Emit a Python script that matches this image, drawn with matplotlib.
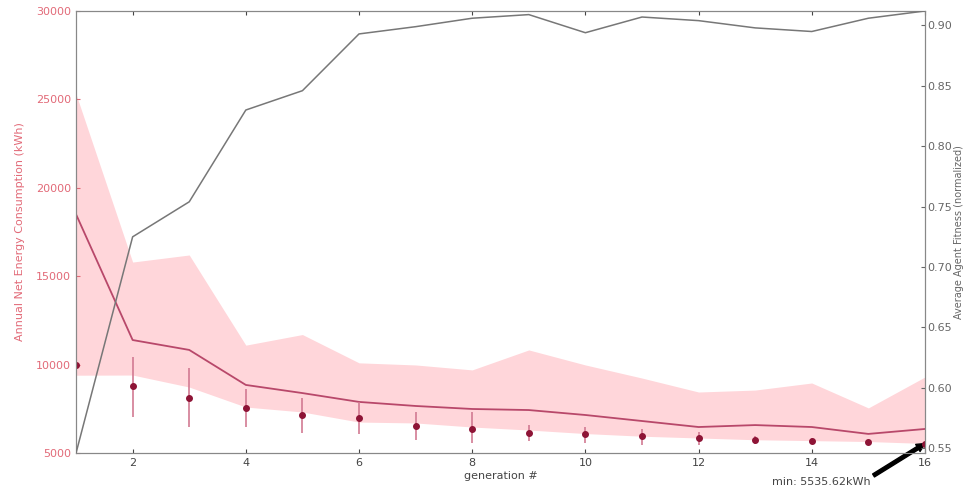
import matplotlib
matplotlib.use("Agg")
import matplotlib.pyplot as plt
import numpy as np

# generation index
generations = np.arange(1, 17)

# mean energy consumption per generation (kWh)
energy_mean = [18500, 11390, 10830, 8850, 8390, 7890, 7660, 7490,
               7430, 7150, 6810, 6470, 6580, 6470, 6080, 6360]
# spread band around the population (kWh)
band_upper = [25300, 15800, 16200, 11100, 11700, 10100, 9980, 9700,
              10830, 9980, 9240, 8450, 8560, 8960, 7550, 9300]
band_lower = [9400, 9410, 8730, 7600, 7320, 6750, 6700, 6470,
              6300, 6100, 5950, 5850, 5750, 5700, 5650, 5540]
# best (min) individual per generation with error bars
energy_min = [9980, 8790, 8110, 7545, 7150, 6980, 6530, 6360,
              6130, 6075, 5960, 5850, 5735, 5680, 5620, 5535.62]
err_low = [0, 1750, 1640, 1100, 1000, 920, 790, 790,
           470, 510, 510, 400, 200, 150, 120, 0]
err_high = [0, 1640, 1700, 1100, 960, 900, 800, 960,
            450, 400, 400, 340, 200, 150, 120, 0]
# fitness (right axis)
fitness = [0.546, 0.725, 0.754, 0.830, 0.846, 0.893, 0.899, 0.906,
           0.909, 0.894, 0.907, 0.904, 0.898, 0.895, 0.906, 0.912]

RED_TXT = "#e26a78"
GRAY = "#666666"

fig = plt.figure(figsize=(9.65, 4.88), dpi=100)
ax = fig.add_axes([0.0788, 0.0717, 0.8797, 0.9058])

ax.fill_between(generations, band_lower, band_upper, color="#ffd6da",
                linewidth=0, zorder=1)
ax.plot(generations, energy_mean, color="#b8486a", lw=1.3, zorder=3)
ax.errorbar(generations, energy_min, yerr=[err_low, err_high], fmt="o",
            color="#8e1436", ms=4, ecolor="#d27a92", elinewidth=1.2,
            capsize=0, zorder=4)

ax.set_xlim(1, 16)
ax.set_ylim(5000, 30000)
ax.set_xticks(np.arange(2, 17, 2))
ax.set_yticks(np.arange(5000, 30001, 5000))
ax.set_xlabel("generation #", fontsize=8, color="#444444", labelpad=2)
ax.set_ylabel("Annual Net Energy Consumption (kWh)", fontsize=8,
              color=RED_TXT, labelpad=8)
ax.tick_params(axis="y", colors=RED_TXT, labelsize=8, direction="in",
               length=3)
ax.tick_params(axis="x", colors="#444444", labelsize=8, direction="in",
               length=3, top=True)
for s in ax.spines.values():
    s.set_color("#888888")

ax2 = ax.twinx()
ax2.plot(generations, fitness, color="#777777", lw=1.1, zorder=5)
ax2.set_ylim(0.546, 0.912)
ax2.set_yticks(np.arange(0.55, 0.91, 0.05))
ax2.yaxis.set_major_formatter(matplotlib.ticker.FormatStrFormatter("%.2f"))
ax2.tick_params(axis="y", colors=GRAY, labelsize=8, direction="in",
                length=3, pad=2)
ax2.set_ylabel("Average Agent Fitness (normalized)", fontsize=7,
               color=GRAY, labelpad=1)
for s in ax2.spines.values():
    s.set_color("#888888")

ax.annotate("min: %.2fkWh" % energy_min[-1],
            xy=(generations[-1], energy_min[-1]),
            xytext=(13.3, 3350), fontsize=8, color="#444444",
            va="center", ha="left", annotation_clip=False,
            arrowprops=dict(facecolor="black", edgecolor="black", width=2.5,
                            headwidth=6, headlength=6, shrink=0.0))

fig.savefig("out.png", dpi=100)
